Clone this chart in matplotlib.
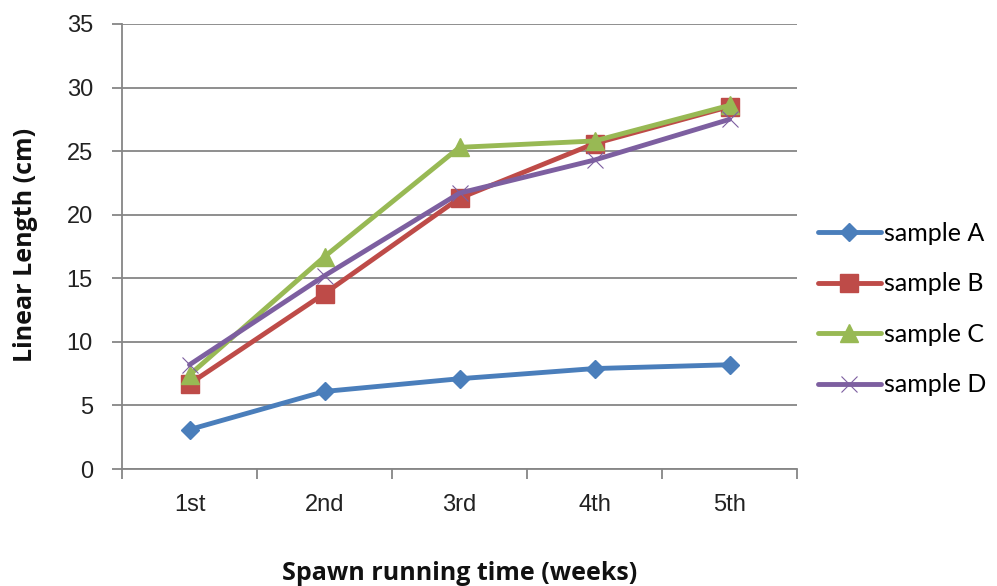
import matplotlib
matplotlib.use("Agg")
import matplotlib.pyplot as plt
from matplotlib.ticker import FixedLocator, NullFormatter

categories = ["1st", "2nd", "3rd", "4th", "5th"]
sample_a = [3.1, 6.1, 7.1, 7.9, 8.2]
sample_b = [6.7, 13.8, 21.3, 25.6, 28.5]
sample_c = [7.4, 16.7, 25.3, 25.8, 28.6]
sample_d = [8.2, 15.2, 21.7, 24.3, 27.5]
series_names = ["sample A", "sample B", "sample C", "sample D"]
y_ticks = [0, 5, 10, 15, 20, 25, 30, 35]

colors = ["#4A7EBB", "#BE4B48", "#98B954", "#7D5FA0"]
markers = ["D", "s", "^", "x"]
msizes = [9, 13, 13, 11]

fig = plt.figure(figsize=(9.97, 5.86), dpi=100)
ax = fig.add_axes([122/997, 1-469/586, (797-122)/997, (469-24)/586])

x = list(range(len(categories)))
handles = []
for vals, name, c, m, ms in zip([sample_a, sample_b, sample_c, sample_d], series_names, colors, markers, msizes):
    if m == "x":
        h, = ax.plot(x, vals, color=c, lw=3.5, marker=m, ms=ms, mew=0.8, mec=c, label=name, solid_capstyle="round")
    else:
        h, = ax.plot(x, vals, color=c, lw=3.5, marker=m, ms=ms, mec=c, mfc=c, label=name, solid_capstyle="round")
    handles.append(h)

ax.set_xlim(-0.5, len(categories) - 0.5)
ax.set_ylim(0, 35)
ax.set_yticks(y_ticks)
ax.set_yticklabels([str(v) for v in y_ticks], fontsize=17, family="Liberation Sans", color="#222222")
ax.yaxis.grid(True, color="#868686", lw=1.3)
ax.set_axisbelow(True)

ax.xaxis.set_major_locator(FixedLocator([i - 0.5 for i in range(len(categories) + 1)]))
ax.xaxis.set_major_formatter(NullFormatter())
ax.xaxis.set_minor_locator(FixedLocator(x))
ax.set_xticklabels(categories, minor=True, fontsize=17, family="Liberation Sans", color="#222222")
ax.tick_params(axis="x", which="minor", length=0, pad=18)
ax.tick_params(axis="x", which="major", length=7, width=1.3, color="#868686", direction="out")
ax.tick_params(axis="y", length=7, width=1.3, color="#868686", direction="out", pad=14)

for s in ["top", "right"]:
    ax.spines[s].set_visible(False)
for s in ["left", "bottom"]:
    ax.spines[s].set_color("#868686")
    ax.spines[s].set_linewidth(1.3)

fig.text(26/997, 1-245/586, "Linear Length (cm)", rotation=90, ha="center", va="center",
         fontsize=18, fontweight="bold", family="Open Sans", color="#111111")
fig.text(460/997, 1-573/586, "Spawn running time (weeks)", ha="center", va="center",
         fontsize=18, fontweight="bold", family="Open Sans", color="#111111")

leg = fig.legend(handles=handles, labels=series_names, loc="center left",
                 bbox_to_anchor=(808/997, 1-309/586), frameon=False,
                 prop={"family": "Lato", "size": 18}, handlelength=2.5,
                 handletextpad=0.12, labelspacing=1.1, borderaxespad=0)

fig.savefig("out.png", dpi=100)
